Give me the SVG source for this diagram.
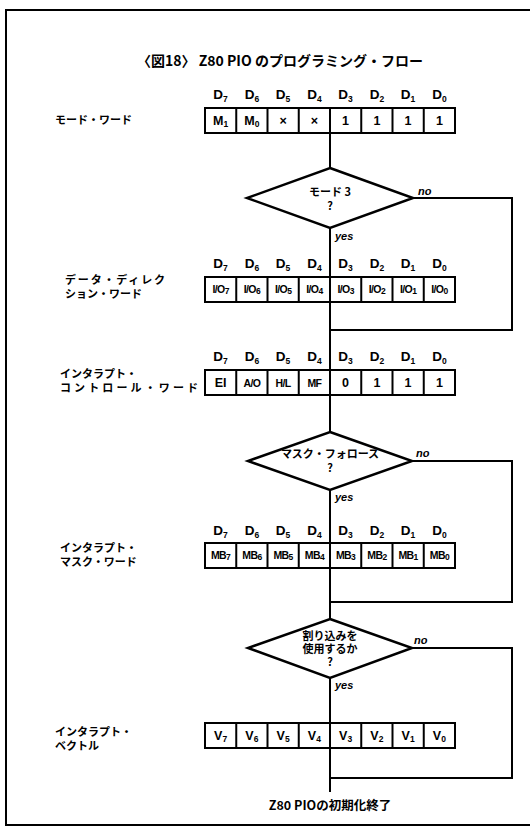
<svg xmlns="http://www.w3.org/2000/svg" width="530" height="829" viewBox="0 0 530 829">
<style>
.frame{fill:none;stroke:#000;stroke-width:2}
.ln{fill:none;stroke:#000;stroke-width:2}
.box{fill:#fff;stroke:#000;stroke-width:2}
.dia{fill:#fff;stroke:#000;stroke-width:2.5;stroke-linejoin:miter}
.jp{font-family:"Noto Sans CJK JP","Noto Sans",sans-serif;font-weight:bold;fill:#000}
.t{font-size:14px}
.lab{font-size:11px}
.dq{font-size:11px;text-anchor:middle}
.hdr{font-family:"Liberation Sans",Arial,sans-serif;font-weight:bold;font-size:13.5px;text-anchor:middle;fill:#000}
.cell{font-family:"Liberation Sans",Arial,sans-serif;font-weight:bold;font-size:12.5px;text-anchor:middle;fill:#000}
.sm{font-size:10.5px;letter-spacing:-0.6px}
.sub{font-size:8.5px}
.yn{font-family:"Liberation Sans",Arial,sans-serif;font-weight:bold;font-style:italic;font-size:11px;fill:#000}
</style>
<defs>
<g id="grid8">
<rect class="box" x="0" y="0" width="250" height="25"/>
<path class="ln" d="M31.25 0V25M62.5 0V25M93.75 0V25M125 0V25M156.25 0V25M187.5 0V25M218.75 0V25"/>
</g>
<g id="hdrs" class="hdr">
<text x="220.6">D<tspan class="sub" dy="3">7</tspan></text>
<text x="251.9">D<tspan class="sub" dy="3">6</tspan></text>
<text x="283.1">D<tspan class="sub" dy="3">5</tspan></text>
<text x="314.4">D<tspan class="sub" dy="3">4</tspan></text>
<text x="345.6">D<tspan class="sub" dy="3">3</tspan></text>
<text x="376.9">D<tspan class="sub" dy="3">2</tspan></text>
<text x="408.1">D<tspan class="sub" dy="3">1</tspan></text>
<text x="439.4">D<tspan class="sub" dy="3">0</tspan></text>
</g>
</defs>

<path class="frame" d="M530 10H6V825H530"/>

<text class="jp t" x="137" y="66">〈図18〉 Z80  PIO のプログラミング・フロー</text>

<g id="connectors">
<path class="ln" d="M330 133V168"/>
<path class="ln" d="M330 228V277"/>
<path class="ln" d="M413 198H512V330H330"/>
<path class="ln" d="M330 302V370"/>
<path class="ln" d="M330 395V432"/>
<path class="ln" d="M330 490V543"/>
<path class="ln" d="M412 461H512V602H330"/>
<path class="ln" d="M330 568V619"/>
<path class="ln" d="M330 678V723"/>
<path class="ln" d="M412 648H512V778H330"/>
<path class="ln" d="M330 748V792"/>
<text class="yn" x="418" y="195">no</text>
<text class="yn" x="335" y="240">yes</text>
<text class="yn" x="416" y="457">no</text>
<text class="yn" x="335" y="501">yes</text>
<text class="yn" x="414" y="644">no</text>
<text class="yn" x="335" y="689">yes</text>
</g>

<g id="mode-word">
<text class="jp lab" x="55" y="124">モード・ワード</text>
<use href="#hdrs" y="99"/>
<use href="#grid8" x="205" y="108"/>
<g class="cell">
<text x="220.6" y="125">M<tspan class="sub" dy="2">1</tspan></text>
<text x="251.9" y="125">M<tspan class="sub" dy="2">0</tspan></text>
<text x="283.1" y="125">×</text>
<text x="314.4" y="125">×</text>
<text x="345.6" y="125">1</text>
<text x="376.9" y="125">1</text>
<text x="408.1" y="125">1</text>
<text x="439.4" y="125">1</text>
</g>
</g>

<g id="mode3">
<polygon class="dia" points="330,168 413,198 330,228 247,198"/>
<text class="jp dq" x="330" y="196">モード 3</text>
<text class="jp dq" x="330" y="210">?</text>
</g>

<g id="data-direction">
<text class="jp lab" x="65" y="284" textLength="100">データ・ディレク</text>
<text class="jp lab" x="65" y="298">ション・ワード</text>
<use href="#hdrs" y="268"/>
<use href="#grid8" x="205" y="277"/>
<g class="cell sm">
<text x="220.6" y="293">I/O<tspan class="sub" dy="1">7</tspan></text>
<text x="251.9" y="293">I/O<tspan class="sub" dy="1">6</tspan></text>
<text x="283.1" y="293">I/O<tspan class="sub" dy="1">5</tspan></text>
<text x="314.4" y="293">I/O<tspan class="sub" dy="1">4</tspan></text>
<text x="345.6" y="293">I/O<tspan class="sub" dy="1">3</tspan></text>
<text x="376.9" y="293">I/O<tspan class="sub" dy="1">2</tspan></text>
<text x="408.1" y="293">I/O<tspan class="sub" dy="1">1</tspan></text>
<text x="439.4" y="293">I/O<tspan class="sub" dy="1">0</tspan></text>
</g>
</g>

<g id="interrupt-control">
<text class="jp lab" x="60" y="378">インタラプト・</text>
<text class="jp lab" x="60" y="392" textLength="138">コントロール・ワード</text>
<use href="#hdrs" y="361"/>
<use href="#grid8" x="205" y="370"/>
<g class="cell">
<text x="220.6" y="387">EI</text>
<text x="251.9" y="387" class="sm">A/O</text>
<text x="283.1" y="387" class="sm">H/L</text>
<text x="314.4" y="387" class="sm">MF</text>
<text x="345.6" y="387">0</text>
<text x="376.9" y="387">1</text>
<text x="408.1" y="387">1</text>
<text x="439.4" y="387">1</text>
</g>
</g>

<g id="mask-follows">
<polygon class="dia" points="330,432 412,461 330,490 248,461"/>
<text class="jp dq" x="330" y="458">マスク・フォロース</text>
<text class="jp dq" x="330" y="472">?</text>
</g>

<g id="mask-word">
<text class="jp lab" x="60" y="552">インタラプト・</text>
<text class="jp lab" x="60" y="566">マスク・ワード</text>
<use href="#hdrs" y="535"/>
<use href="#grid8" x="205" y="543"/>
<g class="cell sm">
<text x="220.6" y="559">MB<tspan class="sub" dy="1">7</tspan></text>
<text x="251.9" y="559">MB<tspan class="sub" dy="1">6</tspan></text>
<text x="283.1" y="559">MB<tspan class="sub" dy="1">5</tspan></text>
<text x="314.4" y="559">MB<tspan class="sub" dy="1">4</tspan></text>
<text x="345.6" y="559">MB<tspan class="sub" dy="1">3</tspan></text>
<text x="376.9" y="559">MB<tspan class="sub" dy="1">2</tspan></text>
<text x="408.1" y="559">MB<tspan class="sub" dy="1">1</tspan></text>
<text x="439.4" y="559">MB<tspan class="sub" dy="1">0</tspan></text>
</g>
</g>

<g id="use-interrupt">
<polygon class="dia" points="330,619 412,648 330,678 248,648"/>
<text class="jp dq" x="330" y="640">割り込みを</text>
<text class="jp dq" x="330" y="653">使用するか</text>
<text class="jp dq" x="330" y="666">?</text>
</g>

<g id="vector">
<text class="jp lab" x="55" y="736">インタラプト・</text>
<text class="jp lab" x="55" y="750">ベクトル</text>
<use href="#grid8" x="205" y="723"/>
<g class="cell">
<text x="220.6" y="740">V<tspan class="sub" dy="2">7</tspan></text>
<text x="251.9" y="740">V<tspan class="sub" dy="2">6</tspan></text>
<text x="283.1" y="740">V<tspan class="sub" dy="2">5</tspan></text>
<text x="314.4" y="740">V<tspan class="sub" dy="2">4</tspan></text>
<text x="345.6" y="740">V<tspan class="sub" dy="2">3</tspan></text>
<text x="376.9" y="740">V<tspan class="sub" dy="2">2</tspan></text>
<text x="408.1" y="740">V<tspan class="sub" dy="2">1</tspan></text>
<text x="439.4" y="740">V<tspan class="sub" dy="2">0</tspan></text>
</g>
</g>

<g id="end">
<text class="jp" x="330" y="810" font-size="12.5" text-anchor="middle">Z80 PIOの初期化終了</text>
</g>
</svg>
